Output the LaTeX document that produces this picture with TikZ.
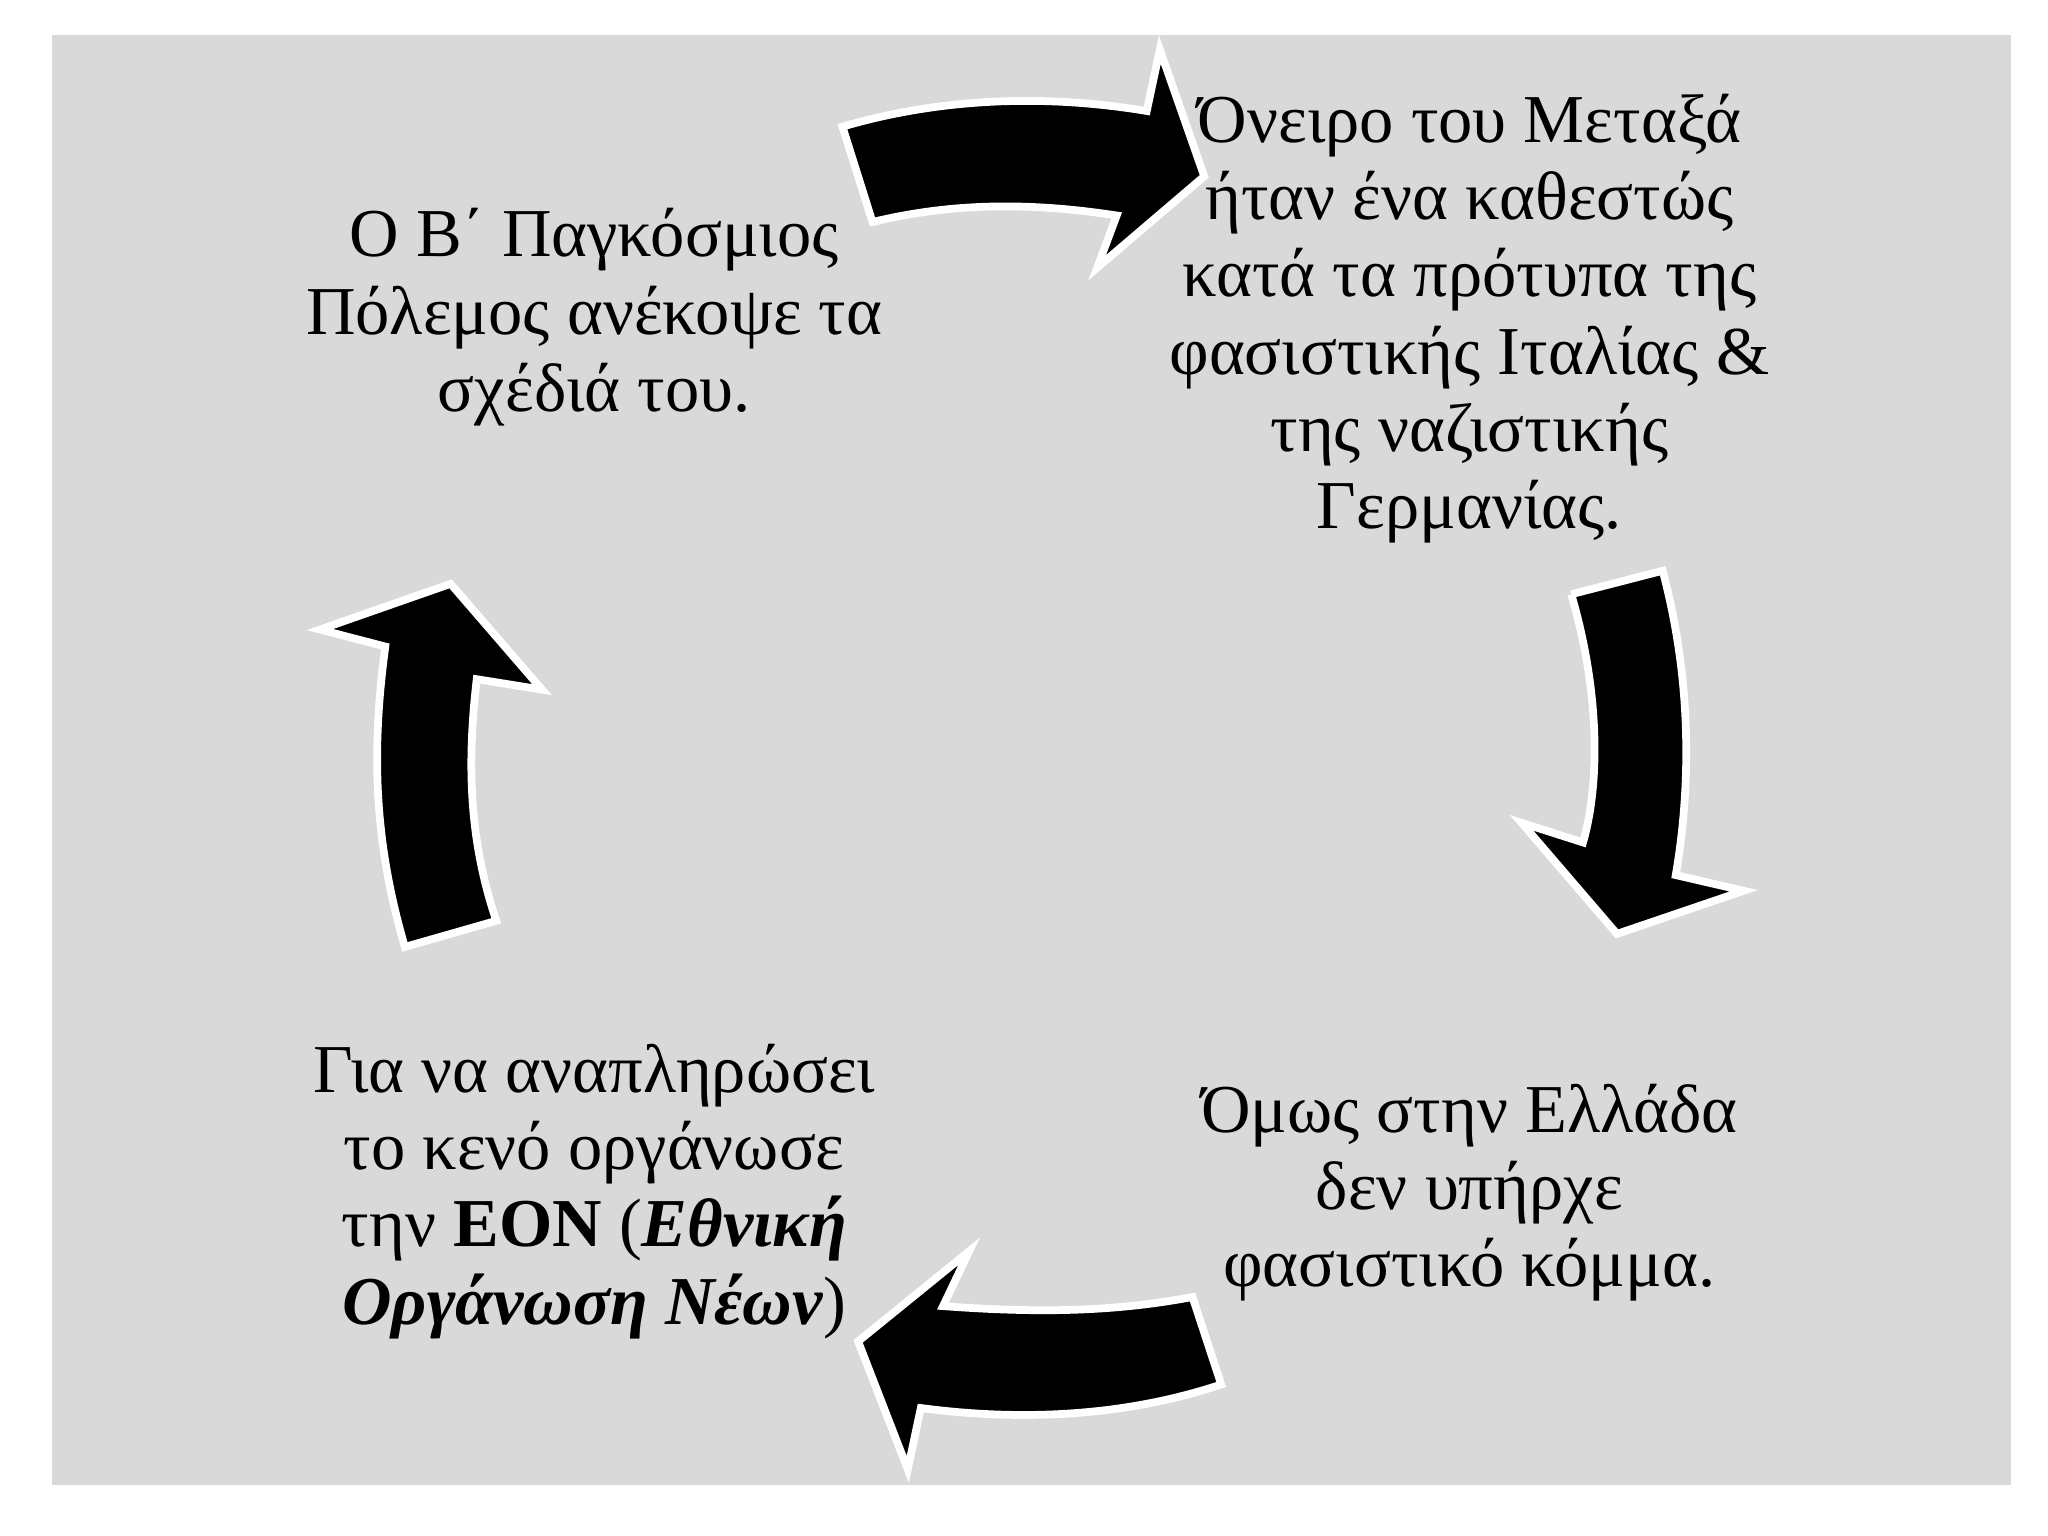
\documentclass[tikz,border=0pt]{standalone}
\usepackage{fontspec}
\setmainfont{Liberation Serif}
\begin{document}
\begin{tikzpicture}[x=0.0130612cm,y=-0.0130612cm,
  arr/.style={fill=black,draw=white,line width=2.2pt,line join=miter},
  txt/.style={align=center,font=\fontsize{19.5}{22}\selectfont}]
\useasboundingbox (0,0) rectangle (1568,1176);
\fill[white] (0,0) rectangle (1568,1176);
\fill[black!15] (40,27) rectangle (1540,1137);
% top arrow
\draw[arr] (645,97) .. controls (720,75) and (800,72) .. (878,85) -- (888,38) -- (922,135) -- (840,205) -- (855,165) .. controls (790,155) and (730,155) .. (668,170) -- cycle;
% right arrow
\draw[arr] (1203,455) -- (1273,437) .. controls (1295,520) and (1295,600) .. (1283,670) -- (1335,682) -- (1238,715) -- (1165,630) -- (1212,645) .. controls (1225,600) and (1225,530) .. (1203,455);
% bottom arrow
\draw[arr] (913,993) .. controls (850,1005) and (790,1005) .. (722,1000) -- (742,958) -- (657,1027) -- (695,1125) -- (705,1078) .. controls (780,1088) and (860,1085) .. (935,1060) -- cycle;
% left arrow
\draw[arr] (310,725) .. controls (285,640) and (285,570) .. (295,495) -- (245,482) -- (345,447) -- (415,528) -- (365,520) .. controls (358,580) and (358,640) .. (380,705) -- cycle;
\node[txt] (tr) at (1125,244) {Όνειρο του Μεταξά\\ήταν ένα καθεστώς\\κατά τα πρότυπα της\\φασιστικής Ιταλίας \&\\της ναζιστικής\\Γερμανίας.};
\node[txt] (tl) at (455,243) {Ο Β΄ Παγκόσμιος\\Πόλεμος ανέκοψε τα\\σχέδιά του.};
\node[txt] (br) at (1125,913) {Όμως στην Ελλάδα\\δεν υπήρχε\\φασιστικό κόμμα.};
\node[txt] (bl) at (455,912) {Για να αναπληρώσει\\το κενό οργάνωσε\\την \textbf{ΕΟΝ} (\textbf{\textit{Εθνική}}\\\textbf{\textit{Οργάνωση Νέων}})};
\end{tikzpicture}
\end{document}
